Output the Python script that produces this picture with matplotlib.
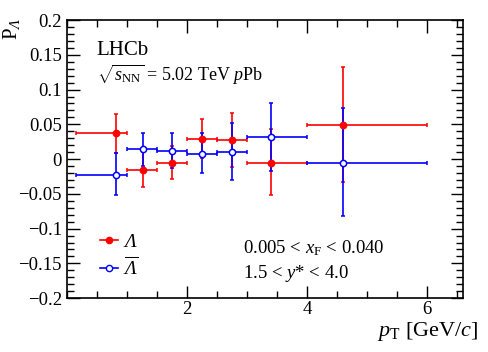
import numpy as np
import matplotlib
matplotlib.use("Agg")
import matplotlib.pyplot as plt
from matplotlib.ticker import MultipleLocator
from matplotlib.lines import Line2D

plt.rcParams['font.family'] = ['Liberation Serif', 'DejaVu Serif']
plt.rcParams['mathtext.fontset'] = 'custom'
plt.rcParams['mathtext.rm'] = 'Liberation Serif'
plt.rcParams['mathtext.it'] = 'Liberation Serif:italic'
# italic slot for Greek capitals (mathit forces them upright)
plt.rcParams['mathtext.sf'] = 'Liberation Serif:italic'

# bin edges in pT
bin_lo = [0.15, 1.0, 1.5, 2.0, 2.5, 3.0, 4.0]
bin_hi = [1.0, 1.5, 2.0, 2.5, 3.0, 4.0, 6.0]
pt_mean = [0.82, 1.27, 1.75, 2.25, 2.75, 3.4, 4.6]

# Lambda
lam_val = [0.037, -0.015, -0.006, 0.029, 0.027, -0.005, 0.049]
lam_up = [0.065, 0.010, 0.019, 0.057, 0.066, 0.044, 0.132]
lam_dn = [0.009, -0.040, -0.029, 0.001, -0.012, -0.052, -0.033]

# anti-Lambda
alam_val = [-0.023, 0.014, 0.011, 0.008, 0.010, 0.032, -0.005]
alam_up = [0.009, 0.037, 0.037, 0.037, 0.052, 0.081, 0.073]
alam_dn = [-0.052, -0.010, -0.013, -0.020, -0.030, -0.017, -0.082]

x = np.array(pt_mean)
xerr = [x - np.array(bin_lo), np.array(bin_hi) - x]

fig = plt.figure(figsize=(4.88, 3.52), dpi=100)
ax = fig.add_axes([0.137, 0.153, 0.812, 0.790])

def draw(val, up, dn, color, mfc):
    v = np.array(val)
    yerr = [v - np.array(dn), np.array(up) - v]
    ax.errorbar(x, v, xerr=xerr, yerr=yerr, fmt='o', color=color,
                mfc=mfc, mec=color, ms=4.5, mew=1.1, elinewidth=1.2,
                capsize=1.5, capthick=1.0)

draw(lam_val, lam_up, lam_dn, 'red', 'red')
draw(alam_val, alam_up, alam_dn, 'blue', 'white')

ax.set_xlim(0, 6.6)
ax.set_ylim(-0.2, 0.2)
ax.xaxis.set_minor_locator(MultipleLocator(0.5))
ax.yaxis.set_minor_locator(MultipleLocator(0.01))
ax.set_xticks([2, 4, 6])
ax.set_xticklabels(['2', '4', '6'])
ax.set_yticks(np.round(np.arange(-0.2, 0.201, 0.05), 2))
ax.set_yticklabels(['−0.2', '−0.15', '−0.1', '−0.05', '0', '0.05', '0.1', '0.15', '0.2'])
ax.tick_params(which='both', direction='in', top=True, right=True, labelsize=13.5, width=1)
ax.tick_params(axis='x', pad=2)
ax.tick_params(which='major', length=9)
ax.tick_params(which='minor', length=5)
for s in ax.spines.values():
    s.set_linewidth(1.2)

fig.text(478 / 488, 1 - 336 / 352, r'$p_{\mathrm{T}}$ [GeV/$c$]', fontsize=16,
         ha='right', va='baseline')
fig.text(12 / 488, 1 - 17 / 352, r'P$_{\mathsf{\Lambda}}$', fontsize=15, rotation=90,
         ha='center', va='top')

ax.text(0.075, 0.875, 'LHCb', transform=ax.transAxes, fontsize=15)
ax.text(0.075, 0.78, r'$\sqrt{s_{\mathrm{NN}}}$ = 5.02 TeV $p$Pb', transform=ax.transAxes, fontsize=13)
ax.text(0.445, 0.16, r'0.005 < $x_{\mathrm{F}}$ < 0.040', transform=ax.transAxes, fontsize=13.5)
ax.text(0.445, 0.072, r'1.5 < $y$* < 4.0', transform=ax.transAxes, fontsize=13.5)

handles = [Line2D([], [], color='red', marker='o', ms=4.5, mfc='red', lw=1.2),
           Line2D([], [], color='blue', marker='o', ms=4.5, mfc='white', lw=1.2)]
labels = [r'$\mathsf{\Lambda}$', r'$\overline{\mathsf{\Lambda}}$']
ax.legend(handles, labels, loc='lower left', bbox_to_anchor=(0.05, 0.02), frameon=False,
          fontsize=14, handlelength=0.9, handletextpad=0.25, labelspacing=0.3, borderpad=0.2)

fig.savefig('out.png', dpi=100)
